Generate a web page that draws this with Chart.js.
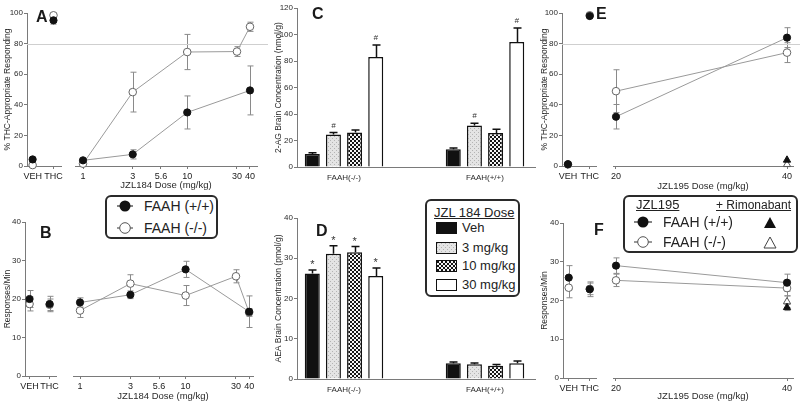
<!DOCTYPE html>
<html>
<head>
<meta charset="utf-8">
<title>FAAH / JZL184 / JZL195</title>
<script src="https://cdn.jsdelivr.net/npm/chart.js@4.4.1/dist/chart.umd.min.js"></script>
<style>
  html, body { margin: 0; padding: 0; background: #fff; }
  body { position: relative; width: 800px; height: 404px; overflow: hidden;
         font-family: "Liberation Sans", Arial, sans-serif; color: #222; }
  canvas { position: absolute; }
  .letter { position: absolute; font-size: 16px; line-height: 16px; font-weight: bold; color: #1a1a1a; }
  .box { position: absolute; box-sizing: border-box; border: 2px solid #2a2a2a; border-radius: 6px; background: #fff; }
  .box span, .box svg, .box i { position: absolute; }
  .box span { white-space: nowrap; }
  .u { text-decoration: underline; }
  .sw { position: absolute; box-sizing: border-box; border: 1.5px solid #111; width: 21px; height: 12px; }
</style>
</head>
<body>
<canvas id="aCtrl" width="66" height="195" style="left:0;top:0"></canvas>
<canvas id="aDose" width="204" height="195" style="left:66px;top:0"></canvas>
<canvas id="bCtrl" width="62" height="195" style="left:0;top:209px"></canvas>
<canvas id="bDose" width="208" height="195" style="left:62px;top:209px"></canvas>
<canvas id="cBars" width="270" height="195" style="left:270px;top:0"></canvas>
<canvas id="dBars" width="270" height="199" style="left:270px;top:205px"></canvas>
<canvas id="eCtrl" width="62" height="195" style="left:540px;top:0"></canvas>
<canvas id="eDose" width="198" height="195" style="left:602px;top:0"></canvas>
<canvas id="fCtrl" width="62" height="194" style="left:540px;top:210px"></canvas>
<canvas id="fDose" width="198" height="194" style="left:602px;top:210px"></canvas>

<div class="letter" style="left:36px;top:9px">A</div>
<div class="letter" style="left:40px;top:225px">B</div>
<div class="letter" style="left:312px;top:6px">C</div>
<div class="letter" style="left:316px;top:223px">D</div>
<div class="letter" style="left:596px;top:6px">E</div>
<div class="letter" style="left:594px;top:222px">F</div>

<div class="box" style="left:105px;top:195px;width:113px;height:44px">
  <svg style="left:9px;top:2px" width="18" height="14"><line x1="1" y1="7" x2="17" y2="7" stroke="#333" stroke-width="1.2"/><circle cx="9" cy="7" r="5.5" fill="#111"/></svg>
  <span style="left:37px;top:1px;font-size:14px;line-height:16px">FAAH (+/+)</span>
  <svg style="left:9px;top:24px" width="18" height="14"><line x1="1" y1="7" x2="17" y2="7" stroke="#555" stroke-width="1.2"/><circle cx="9" cy="7" r="5.3" fill="#fff" stroke="#555" stroke-width="1"/></svg>
  <span style="left:37px;top:23px;font-size:14px;line-height:16px">FAAH (-/-)</span>
</div>

<div class="box" style="left:425px;top:199px;width:95px;height:98px">
  <span class="u" style="left:7px;top:5px;font-size:13px;line-height:14px">JZL 184 Dose</span>
  <i class="sw" id="sw0" style="left:9px;top:21px;background:#111"></i>
  <span style="left:35px;top:20px;font-size:13px;line-height:14px">Veh</span>
  <i class="sw" id="sw1" style="left:9px;top:41px"></i>
  <span style="left:35px;top:40px;font-size:13px;line-height:14px">3 mg/kg</span>
  <i class="sw" id="sw2" style="left:9px;top:59px"></i>
  <span style="left:35px;top:58px;font-size:13px;line-height:14px">10 mg/kg</span>
  <i class="sw" id="sw3" style="left:9px;top:78px;background:#fff"></i>
  <span style="left:35px;top:77px;font-size:13px;line-height:14px">30 mg/kg</span>
</div>

<div class="box" style="left:623px;top:195px;width:175px;height:58px">
  <span class="u" style="left:11px;top:1px;font-size:13px;line-height:14px">JZL195</span>
  <span class="u" style="left:91px;top:1px;font-size:12px;line-height:14px">+ Rimonabant</span>
  <svg style="left:8px;top:18px" width="20" height="14"><line x1="1" y1="7" x2="19" y2="7" stroke="#333" stroke-width="1.2"/><circle cx="10" cy="7" r="5.5" fill="#111"/></svg>
  <span style="left:38px;top:17px;font-size:14px;line-height:16px">FAAH (+/+)</span>
  <svg style="left:138px;top:19px" width="14" height="13"><polygon points="7,1 13,12 1,12" fill="#111"/></svg>
  <svg style="left:8px;top:38px" width="20" height="14"><line x1="1" y1="7" x2="19" y2="7" stroke="#555" stroke-width="1.2"/><circle cx="10" cy="7" r="5.3" fill="#fff" stroke="#555" stroke-width="1"/></svg>
  <span style="left:38px;top:37px;font-size:14px;line-height:16px">FAAH (-/-)</span>
  <svg style="left:138px;top:39px" width="14" height="13"><polygon points="7,1 13,12 1,12" fill="#fff" stroke="#444" stroke-width="1"/></svg>
</div>

<script>
// ---------- data ----------
const ctrlLabels = ['VEH', 'THC'];
const ctrlPos = [0, 1];
const jzl184Ticks = [1, 3, 5.6, 10, 30, 40];
const jzl195Ticks = [20, 40];
const groupLabels = ['FAAH(-/-)', 'FAAH(+/+)'];
const groupPos = [0, 1];

// A: % THC-appropriate responding, JZL184
const aCtrlWT = [4.3, 95.2];
const aCtrlWTErr = [0, 2.5];
const aCtrlKO = [0.6, 98.5];
const aCtrlKOErr = [0, 0];
const aWTDoses = [1, 3, 10, 40];
const aWT = [3.7, 7.6, 35, 49.4];
const aWTErr = [0, 3, 10.8, 16];
const aKODoses = [1, 3, 10, 30, 40];
const aKO = [1.5, 48.3, 74.5, 74.8, 91];
const aKOErr = [0, 13, 11.5, 3.2, 3];

// B: responses/min, JZL184
const bCtrlWT = [20, 18.7];
const bCtrlWTErr = [2.2, 2];
const bCtrlKO = [18.7, 18.5];
const bCtrlKOErr = [1.8, 1.5];
const bWTDoses = [1, 3, 10, 40];
const bWT = [19.1, 21.1, 27.7, 16.7];
const bWTErr = [1.2, 1, 2.1, 4.1];
const bKODoses = [1, 3, 10, 30, 40];
const bKO = [17, 24, 20.9, 25.9, 16.5];
const bKOErr = [1.8, 2.3, 2.6, 1.7, 1];

// C: 2-AG (nmol/g) per group [FAAH(-/-), FAAH(+/+)]
const cVeh = [9.9, 13.4];
const cVehErr = [0.8, 1];
const c3 = [24.6, 31.3];
const c3Err = [1.4, 1.7];
const c10 = [26, 25.6];
const c10Err = [2, 2.9];
const c30 = [83, 94.3];
const c30Err = [9, 10.7];
const c3Marks = ['#', '#'];
const c30Marks = ['#', '#'];

// D: AEA (pmol/g)
const dVeh = [26.2, 3.9];
const dVehErr = [0.9, 0.3];
const d3 = [31.1, 3.65];
const d3Err = [2, 0.3];
const d10 = [31.5, 3.3];
const d10Err = [1.4, 0.3];
const d30 = [25.6, 3.9];
const d30Err = [2, 0.6];
const dMarks = ['*', ''];

// E: % THC-appropriate responding, JZL195
const eCtrlWT = [1.2, 98];
const eCtrlKO = [1, 98.5];
const eWT = [32.2, 83.9];
const eWTErr = [8, 6.5];
const eKO = [48.9, 74.1];
const eKOErr = [14, 6.5];
const eRimDose = [40];
const eRimWT = [3.9];
const eRimKO = [1];

// F: responses/min, JZL195
const fCtrlWT = [25.9, 22.9];
const fCtrlWTErr = [3.1, 1.9];
const fCtrlKO = [23.3, 23];
const fCtrlKOErr = [2.6, 1.5];
const fWT = [29, 24.6];
const fWTErr = [2, 2.2];
const fKO = [25.2, 23.2];
const fKOErr = [1.6, 2];
const fRimWT = [18.2];
const fRimWTErr = [0.8];
const fRimKO = [19.7];
const fRimKOErr = [1.5];

// ---------- helpers ----------
const AXIS = '#7a7a7a';
const xy = (xs, ys) => xs.map((x, i) => ({ x: x, y: ys[i] }));

Chart.defaults.font.family = '"Liberation Sans", Arial, sans-serif';
Chart.defaults.color = '#2a2a2a';
Chart.defaults.animation = false;
Chart.defaults.plugins.legend.display = false;
Chart.defaults.plugins.tooltip.enabled = false;

const errorBars = {
  id: 'errorBars',
  beforeDatasetsDraw(chart) {
    const ctx = chart.ctx;
    chart.data.datasets.forEach((ds, i) => {
      if (!ds.err) return;
      const meta = chart.getDatasetMeta(i);
      const ys = chart.scales[meta.yAxisID];
      ctx.save();
      ctx.strokeStyle = ds.errColor || '#888';
      ctx.lineWidth = ds.errWidth || 1;
      const cap = ds.errCap || 3;
      meta.data.forEach((el, j) => {
        const e = ds.err[j];
        if (!e) return;
        const raw = ds.data[j];
        const v = typeof raw === 'object' ? raw.y : raw;
        const x = Math.round(el.x) + 0.5;
        const yt = ys.getPixelForValue(v + e);
        const yb = ds.errUp ? ys.getPixelForValue(v) : ys.getPixelForValue(v - e);
        ctx.beginPath();
        ctx.moveTo(x, yt); ctx.lineTo(x, yb);
        ctx.moveTo(x - cap, yt); ctx.lineTo(x + cap, yt);
        if (!ds.errUp) { ctx.moveTo(x - cap, yb); ctx.lineTo(x + cap, yb); }
        ctx.stroke();
      });
      ctx.restore();
    });
  },
  afterDatasetsDraw(chart) {
    const ctx = chart.ctx;
    chart.data.datasets.forEach((ds, i) => {
      if (!ds.marks) return;
      const meta = chart.getDatasetMeta(i);
      const ys = chart.scales[meta.yAxisID];
      ctx.save();
      ctx.fillStyle = '#333';
      ctx.textAlign = 'center';
      ctx.textBaseline = 'middle';
      meta.data.forEach((el, j) => {
        const m = ds.marks[j];
        if (!m) return;
        const v = ds.data[j].y + (ds.err ? ds.err[j] : 0);
        ctx.font = m === '#' ? 'italic 8px "Liberation Sans", Arial' : '11px "Liberation Sans", Arial';
        ctx.fillText(m, el.x, ys.getPixelForValue(v) - (m === '#' ? 7 : 5));
      });
      ctx.restore();
    });
  }
};

const refLine = {
  id: 'refLine',
  beforeDatasetsDraw(chart, args, opts) {
    if (!opts || opts.value == null) return;
    const y = Math.round(chart.scales.y.getPixelForValue(opts.value)) + 0.5;
    const ctx = chart.ctx;
    ctx.save();
    ctx.strokeStyle = '#cfcfcf';
    ctx.lineWidth = 1;
    ctx.beginPath();
    ctx.moveTo(opts.fromArea ? chart.chartArea.left : 0, y);
    ctx.lineTo(chart.width - (opts.endGap || 0), y);
    ctx.stroke();
    ctx.restore();
  }
};
Chart.register(errorBars, refLine);

function yAxis(max, step, title, width, titlePad, show) {
  return {
    display: show, min: 0, max: max, bounds: 'data',
    ticks: { stepSize: step, font: { size: 8 }, padding: 1 },
    grid: { drawOnChartArea: false, tickLength: 3, color: AXIS },
    border: { color: AXIS },
    title: { display: !!title, text: title, font: { size: 8.5 }, padding: { top: titlePad, bottom: 0 } },
    afterFit: s => { s.width = width; }
  };
}

function ctrlX(min, max, height) {
  return {
    type: 'linear', min: min, max: max, bounds: 'data',
    afterBuildTicks: s => { s.ticks = ctrlPos.map(v => ({ value: v })); },
    ticks: { callback: v => ctrlLabels[v], font: { size: 9 }, padding: 2, maxRotation: 0, autoSkip: false, color: '#222' },
    grid: { drawOnChartArea: false, tickLength: 3, color: AXIS },
    border: { color: AXIS },
    afterFit: s => { s.height = height; }
  };
}

function doseX(type, min, max, tickVals, height, title, padBottom) {
  return {
    type: type, min: min, max: max, bounds: 'data',
    afterBuildTicks: s => { s.ticks = tickVals.map(v => ({ value: v })); },
    ticks: { callback: v => String(v), font: { size: 9 }, padding: 2, maxRotation: 0, autoSkip: false, color: '#222' },
    grid: { drawOnChartArea: false, tickLength: 3, color: AXIS },
    border: { color: AXIS },
    title: { display: true, text: title, font: { size: 9.5 }, padding: { top: 0, bottom: padBottom } },
    afterFit: s => { s.height = height; }
  };
}

function filled(data, err, line) {
  return {
    data: data, err: err, showLine: line, borderColor: '#9a9a9a', borderWidth: 1,
    pointRadius: 3.6, pointBackgroundColor: '#111', pointBorderColor: '#111', pointBorderWidth: 1,
    errColor: '#8a8a8a', clip: false
  };
}
function open(data, err, line) {
  return {
    data: data, err: err, showLine: line, borderColor: '#9a9a9a', borderWidth: 1,
    pointRadius: 3.8, pointBackgroundColor: '#fff', pointBorderColor: '#666', pointBorderWidth: 1,
    errColor: '#8a8a8a', clip: false
  };
}
function tri(data, err, fill) {
  return {
    data: data, err: err, showLine: false, pointStyle: 'triangle', pointRadius: 4.2,
    pointBackgroundColor: fill, pointBorderColor: fill === '#fff' ? '#555' : '#111', pointBorderWidth: 1,
    errColor: '#8a8a8a', clip: false
  };
}

function lineChart(id, datasets, x, y, pad, ref) {
  return new Chart(document.getElementById(id), {
    type: 'line',
    data: { datasets: datasets },
    options: {
      responsive: false,
      layout: { padding: pad },
      scales: { x: x, y: y },
      plugins: { refLine: ref || {} }
    }
  });
}

// ---------- patterns ----------
function patternCanvas(kind) {
  const c = document.createElement('canvas');
  c.width = 4; c.height = 4;
  const g = c.getContext('2d');
  if (kind === 'dots') {
    g.fillStyle = '#e4e4e4'; g.fillRect(0, 0, 4, 4);
    g.fillStyle = '#b4b4b4'; g.fillRect(0, 0, 1, 1); g.fillRect(2, 2, 1, 1);
  } else {
    g.fillStyle = '#f4f4f4'; g.fillRect(0, 0, 4, 4);
    g.fillStyle = '#151515'; g.fillRect(0, 0, 2, 2); g.fillRect(2, 2, 2, 2);
  }
  return c;
}
const dotsCv = patternCanvas('dots');
const checkCv = patternCanvas('checks');
const dotsFill = dotsCv.getContext('2d').createPattern(dotsCv, 'repeat');
const checkFill = checkCv.getContext('2d').createPattern(checkCv, 'repeat');
document.getElementById('sw1').style.background = 'url(' + dotsCv.toDataURL() + ')';
document.getElementById('sw2').style.background = 'url(' + checkCv.toDataURL() + ')';
const barFills = ['#111', dotsFill, checkFill, '#fff'];

function barSet(vals, err, k, marks) {
  return {
    data: xy(groupPos, vals), err: err, errUp: true, errColor: '#111', errWidth: 1.5, errCap: 4,
    marks: marks, backgroundColor: barFills[k], borderColor: '#111', borderWidth: 1.5,
    categoryPercentage: 0.6, barPercentage: 0.71
  };
}

function barChart(id, datasets, yMax, yStep, yTitle, padTop, xHeight) {
  return new Chart(document.getElementById(id), {
    type: 'bar',
    data: { datasets: datasets },
    options: {
      responsive: false,
      layout: { padding: { top: padTop, left: 0, right: 5, bottom: 0 } },
      scales: {
        x: {
          type: 'linear', min: -0.3333, max: 1.3546, bounds: 'data', offset: false,
          afterBuildTicks: s => { s.ticks = groupPos.map(v => ({ value: v })); },
          ticks: { callback: v => groupLabels[v], font: { size: 8 }, padding: 6, maxRotation: 0, autoSkip: false },
          grid: { display: false, drawTicks: false, offset: false },
          border: { color: AXIS },
          afterFit: s => { s.height = xHeight; }
        },
        y: yAxis(yMax, yStep, yTitle, 27, 4, true)
      }
    }
  });
}

// ---------- panel A ----------
lineChart('aCtrl',
  [filled(xy(ctrlPos, aCtrlWT), aCtrlWTErr, false), open(xy(ctrlPos, aCtrlKO), aCtrlKOErr, false)],
  ctrlX(-0.27, 1.36, 29),
  yAxis(100, 20, '% THC-Appropriate Responding', 27, 3, true),
  { top: 13, left: 0, right: 3, bottom: 0 },
  { value: 80, fromArea: true });
lineChart('aDose',
  [filled(xy(aWTDoses, aWT), aWTErr, true), open(xy(aKODoses, aKO), aKOErr, true)],
  doseX('logarithmic', 0.838, 46.7, jzl184Ticks, 29, 'JZL184 Dose (mg/kg)', 4),
  yAxis(100, 20, '', 0, 0, false),
  { top: 13, left: 9, right: 13, bottom: 0 },
  { value: 80, endGap: 2 });

// ---------- panel B ----------
lineChart('bCtrl',
  [filled(xy(ctrlPos, bCtrlWT), bCtrlWTErr, false), open(xy(ctrlPos, bCtrlKO), bCtrlKOErr, false)],
  ctrlX(-0.227, 1.364, 28),
  yAxis(40, 10, 'Responses/Min', 25, 3, true),
  { top: 13, left: 0, right: 2, bottom: 0 });
lineChart('bDose',
  [filled(xy(bWTDoses, bWT), bWTErr, true), open(xy(bKODoses, bKO), bKOErr, true)],
  doseX('logarithmic', 0.858, 43.5, jzl184Ticks, 28, 'JZL184 Dose (mg/kg)', 2),
  yAxis(40, 10, '', 0, 0, false),
  { top: 13, left: 11, right: 17, bottom: 0 });

// ---------- panel C ----------
barChart('cBars', [
  barSet(cVeh, cVehErr, 0, null),
  barSet(c3, c3Err, 1, c3Marks),
  barSet(c10, c10Err, 2, null),
  barSet(c30, c30Err, 3, c30Marks)
], 120, 20, '2-AG Brain Concentration (nmol/g)', 8, 28);

// ---------- panel D ----------
barChart('dBars', [
  barSet(dVeh, dVehErr, 0, dMarks),
  barSet(d3, d3Err, 1, dMarks),
  barSet(d10, d10Err, 2, dMarks),
  barSet(d30, d30Err, 3, dMarks)
], 40, 10, 'AEA Brain Concentration (pmol/g)', 13, 25);

// ---------- panel E ----------
lineChart('eCtrl',
  [filled(xy(ctrlPos, eCtrlWT), null, false), open(xy(ctrlPos, eCtrlKO), null, false)],
  ctrlX(-0.273, 1.318, 29),
  yAxis(100, 20, '% THC-Appropriate Responding', 22, 0, true),
  { top: 13, left: 0, right: 5, bottom: 0 },
  { value: 80, fromArea: true });
lineChart('eDose',
  [filled(xy(jzl195Ticks, eWT), eWTErr, true), open(xy(jzl195Ticks, eKO), eKOErr, true),
   tri(xy(eRimDose, eRimWT), null, '#111'), tri(xy(eRimDose, eRimKO), null, '#fff')],
  doseX('linear', 19.65, 40.7, jzl195Ticks, 29, 'JZL195 Dose (mg/kg)', 3),
  yAxis(100, 20, '', 0, 0, false),
  { top: 13, left: 11, right: 7, bottom: 0 },
  { value: 80 });

// ---------- panel F ----------
lineChart('fCtrl',
  [filled(xy(ctrlPos, fCtrlWT), fCtrlWTErr, false), open(xy(ctrlPos, fCtrlKO), fCtrlKOErr, false)],
  ctrlX(-0.273, 1.318, 26),
  yAxis(40, 10, 'Responses/Min', 23, 0, true),
  { top: 13, left: 0, right: 5, bottom: 0 });
lineChart('fDose',
  [filled(xy(jzl195Ticks, fWT), fWTErr, true), open(xy(jzl195Ticks, fKO), fKOErr, true),
   tri(xy(eRimDose, fRimWT), fRimWTErr, '#111'), tri(xy(eRimDose, fRimKO), fRimKOErr, '#fff')],
  doseX('linear', 19.65, 40.7, jzl195Ticks, 26, 'JZL195 Dose (mg/kg)', 2),
  yAxis(40, 10, '', 0, 0, false),
  { top: 13, left: 11, right: 7, bottom: 0 });
</script>
</body>
</html>
